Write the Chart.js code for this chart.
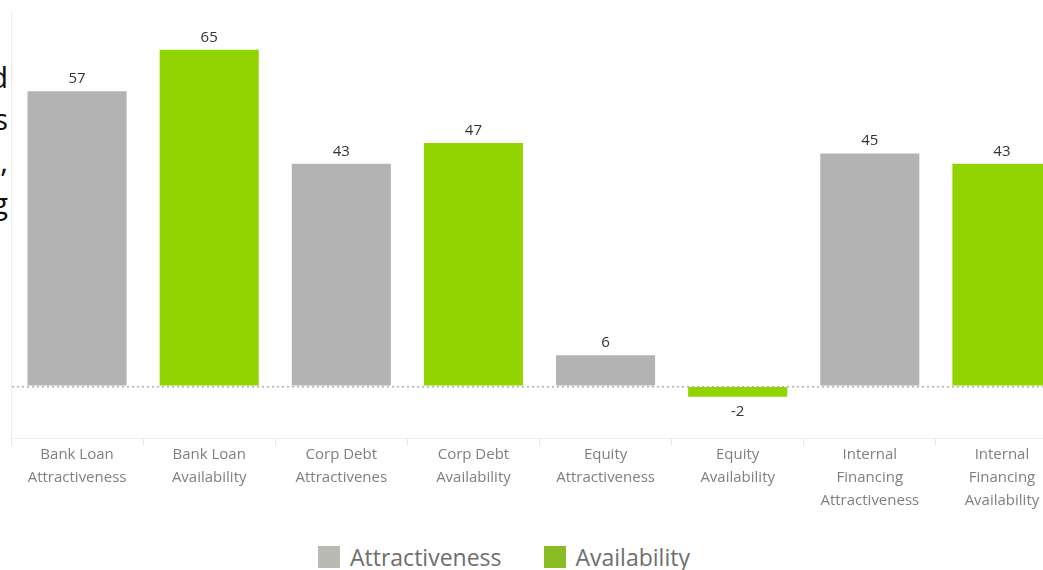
<!DOCTYPE html>
<html>
<head>
<meta charset="utf-8">
<script src="https://cdn.jsdelivr.net/npm/chart.js@4.4.1/dist/chart.umd.min.js"></script>
<style>
  html, body { margin: 0; padding: 0; background: #fff; overflow: hidden; }
  #wrap { position: relative; width: 1043px; height: 570px; overflow: hidden; }
  #box { position: absolute; left: 0; top: 0; width: 1068px; height: 530px; }
  #side { position: absolute; left: -120px; top: 56px; width: 128px; text-align: right;
          font-family: "Open Sans", sans-serif; font-size: 30px; line-height: 42px; color: #111; }
  #legend { position: absolute; top: 541px; left: 318px; display: flex; align-items: center;
            font-family: "Open Sans", sans-serif; font-size: 23px; color: #6e6e6e; }
  #legend span.sw { display: inline-block; width: 22px; height: 22px; margin-right: 10px; }
  #legend span.it { display: flex; align-items: center; margin-right: 42px; }
</style>
</head>
<body>
<div id="wrap">
  <div id="side">d<br>s<br>,<br>g</div>
  <div id="box"><canvas id="grafico"></canvas></div>
  <div id="legend"></div>
</div>
<script>
// categorias y valores
const categorias = [
  ['Bank Loan', 'Attractiveness'],
  ['Bank Loan', 'Availability'],
  ['Corp Debt', 'Attractivenes'],
  ['Corp Debt', 'Availability'],
  ['Equity', 'Attractiveness'],
  ['Equity', 'Availability'],
  ['Internal', 'Financing', 'Attractiveness'],
  ['Internal', 'Financing', 'Availability']
];
const atractivo =      [57, null, 43, null, 6, null, 45, null];
const disponibilidad = [null, 65, null, 47, null, -2, null, 43];

const colorGris = '#b3b3b3';
const colorVerde = '#92d400';

// etiquetas de valor encima / debajo de cada barra
const etiquetasValor = {
  id: 'etiquetasValor',
  afterDatasetsDraw(chart) {
    const ctx = chart.ctx;
    ctx.save();
    ctx.font = '15px "Open Sans", sans-serif';
    ctx.fillStyle = '#333';
    ctx.textAlign = 'center';
    chart.data.datasets.forEach((ds, i) => {
      chart.getDatasetMeta(i).data.forEach((bar, j) => {
        const v = ds.data[j];
        if (v === null) return;
        if (v >= 0) {
          ctx.textBaseline = 'bottom';
          ctx.fillText(v, bar.x, bar.y - 5);
        } else {
          ctx.textBaseline = 'top';
          ctx.fillText(v, bar.x, bar.y + 8);
        }
      });
    });
    ctx.restore();
  }
};

const chart = new Chart(document.getElementById('grafico'), {
  type: 'bar',
  data: {
    labels: categorias,
    datasets: [
      { label: 'Attractiveness', data: atractivo, backgroundColor: colorGris, legendColor: '#babab5' },
      { label: 'Availability', data: disponibilidad, backgroundColor: colorVerde, legendColor: '#8abd24' }
    ]
  },
  options: {
    responsive: true,
    maintainAspectRatio: false,
    animation: false,
    layout: { padding: { left: 11, top: 11, right: 0, bottom: 20 } },
    datasets: { bar: { grouped: false, categoryPercentage: 1, barPercentage: 0.75 } },
    plugins: { legend: { display: false }, tooltip: { enabled: false } },
    scales: {
      x: {
        grid: { offset: true, drawOnChartArea: false, color: '#e6e6e6', tickLength: 7 },
        border: { color: '#ececec' },
        ticks: {
          color: '#7f7f7f', padding: -2, maxRotation: 0, autoSkip: false,
          font: { family: '"Open Sans", sans-serif', size: 15, lineHeight: 1.53 }
        }
      },
      y: {
        min: -10,
        max: 72.5,
        ticks: { display: false, stepSize: 10 },
        // la linea del cero va punteada
        border: { color: '#efefef', dash: [2, 3] },
        grid: {
          drawTicks: false,
          color: c => c.tick.value === 0 ? '#b0b0b0' : 'rgba(0,0,0,0)',
          lineWidth: 1.5
        }
      }
    }
  },
  plugins: [etiquetasValor]
});

// leyenda
const leyenda = document.getElementById('legend');
chart.data.datasets.forEach(ds => {
  const it = document.createElement('span');
  it.className = 'it';
  it.innerHTML = '<span class="sw" style="background:' + ds.legendColor + '"></span>' + ds.label;
  leyenda.appendChild(it);
});
</script>
</body>
</html>
